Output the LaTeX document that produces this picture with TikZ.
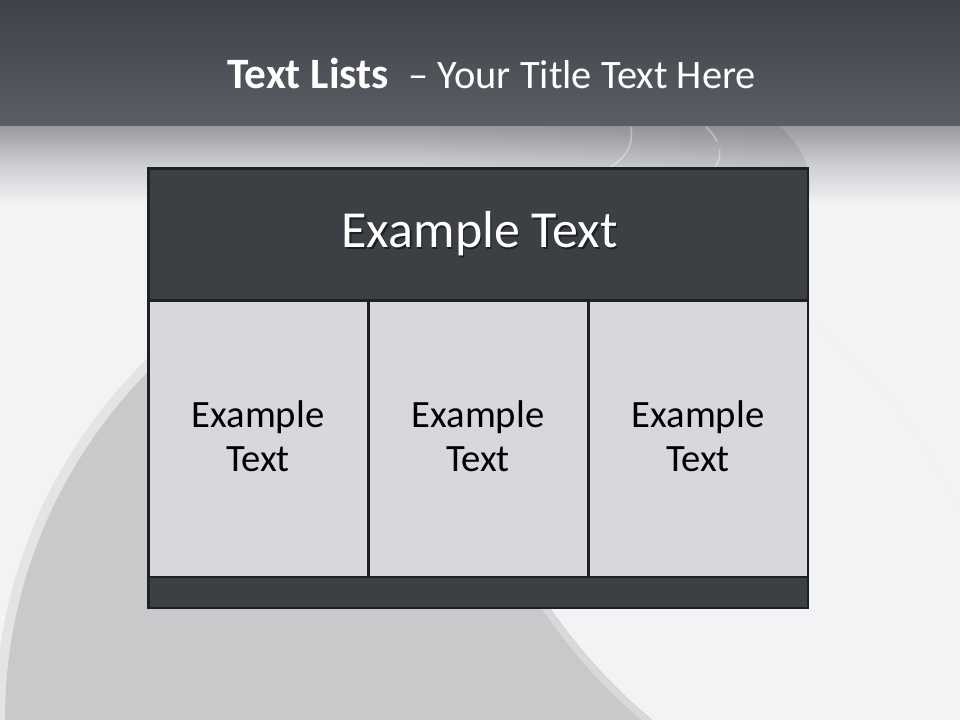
\documentclass[tikz,border=0pt]{standalone}
\usepackage{fontspec}
\setmainfont{Carlito}
\usetikzlibrary{fadings}
\definecolor{bglight}{HTML}{F3F3F5}
\definecolor{hdtop}{HTML}{3E4146}
\definecolor{hdbot}{HTML}{5B5E66}
\definecolor{fadetop}{HTML}{9A9CA1}
\definecolor{fademid}{HTML}{CFD0D3}
\definecolor{circgray}{HTML}{C9C9CB}
\definecolor{halo}{HTML}{E4E4E6}
\definecolor{band}{HTML}{D9D9DB}
\definecolor{hdrfill}{HTML}{3C3F44}
\definecolor{cellfill}{HTML}{D7D8DC}
\definecolor{tblline}{HTML}{1F2023}
\tikzset{
  tbl/.style={draw=tblline, line width=2pt, inner sep=0pt, outer sep=0pt},
  hdrcell/.style={tbl, fill=hdrfill, minimum width={659.5*0.75pt}, minimum height={132*0.75pt}},
  bodycell/.style={tbl, fill=cellfill, minimum width={220*0.75pt}, minimum height={276.5*0.75pt}},
  footcell/.style={tbl, fill=hdrfill, minimum width={659.5*0.75pt}, minimum height={31*0.75pt}},
  hdrtext/.style={text=white, inner sep=0pt, font=\fontsize{39}{47}\selectfont},
  hdrshadow/.style={text=black, opacity=0.5, inner sep=0pt, font=\fontsize{39}{47}\selectfont},
  celltext/.style={text=black, inner sep=0pt, align=center, font=\fontsize{29}{33}\selectfont},
  titletext/.style={text=white, inner sep=0pt}
}
\begin{document}
\begin{tikzpicture}[x=0.75pt,y=-0.75pt]
\useasboundingbox (0,0) rectangle (960,720);
% background
\fill[bglight] (0,0) rectangle (960,720);
\begin{scope}
  \clip (0,0) rectangle (960,720);
  \begin{scope}
    \clip (500,720) circle [radius=505];
    \fill[halo] (500,720) circle [radius=505];
    \fill[circgray] (500,720) circle [radius=495];
    \fill[bglight] (1000,300) circle [radius=545];
  \end{scope}
  \begin{scope}
    \clip (500,720) circle [radius=495];
    \draw[band, line width=5pt] (1000,300) circle [radius=549];
  \end{scope}
\end{scope}
% header band
\shade[top color=hdtop, bottom color=hdbot] (0,0) rectangle (960,127);
\shade[top color=fadetop, bottom color=bglight, middle color=fademid] (0,127) rectangle (960,205);
\begin{scope}
  \clip (0,127) rectangle (960,205);
  \fill[black, opacity=0.08, path fading=west] (610,185) ellipse [x radius=200, y radius=110];
  \draw[white, opacity=0.35, line width=1.2pt] (631,127) .. controls (634,150) and (622,160) .. (606,170);
  \draw[white, opacity=0.35, line width=1.2pt, dash pattern=on 14pt off 6pt] (706,127) .. controls (723,143) and (723,158) .. (713,170);
\end{scope}
% title
\node[titletext, anchor=base west] (title) at (227,88.3) {\fontsize{32.5}{38}\selectfont\textbf{Text Lists}\ \ \fontsize{30.3}{36}\selectfont – Your Title Text Here};
% table
\node[hdrcell] (hdr) at (478.25,234.5) {};
\node[bodycell] (c1) at (258.5,438.75) {};
\node[bodycell] (c2) at (478.5,438.75) {};
\node[bodycell, minimum width={219.5*0.75pt}] (c3) at (698.25,438.75) {};
\node[footcell] (foot) at (478.25,592.5) {};
% texts
\node[hdrshadow, anchor=base] (hdrsh) at (481.2,249.2) {Example Text};
\node[hdrtext, anchor=base] (hdrt) at (479.7,247.7) {Example Text};
\node[celltext] (t1) at (258,436) {Example\\Text};
\node[celltext] (t2) at (478,436) {Example\\Text};
\node[celltext] (t3) at (698,436) {Example\\Text};
\end{tikzpicture}
\end{document}
